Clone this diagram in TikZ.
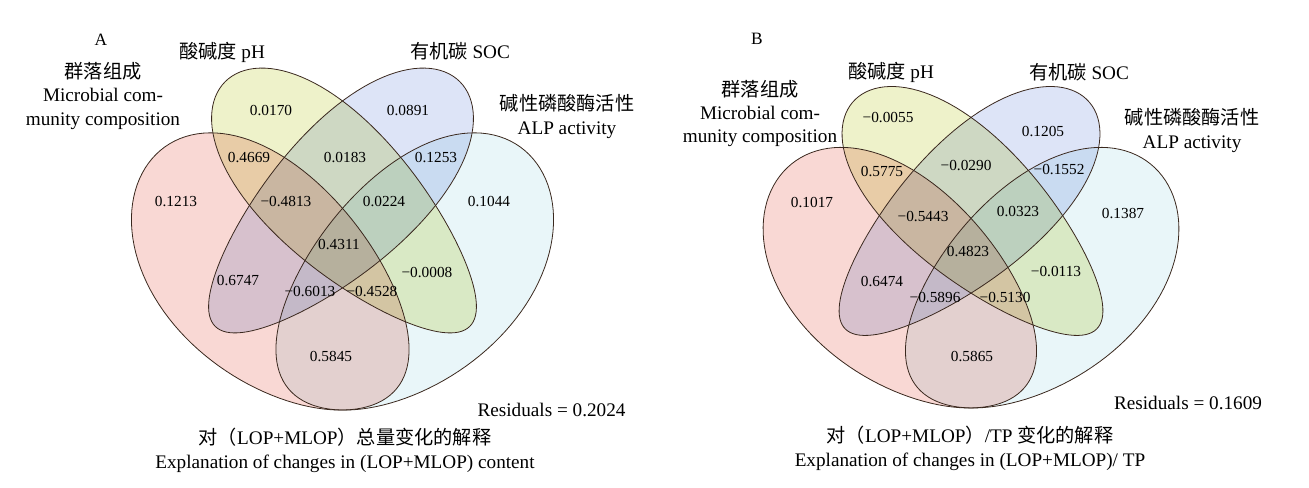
\documentclass[tikz,border=0pt]{standalone}
\usepackage{fontspec}
\setmainfont{Liberation Serif}
\newfontfamily\cjk{Noto Sans CJK SC}
\definecolor{commred}{RGB}{249,216,212}
\definecolor{phyellow}{RGB}{238,242,202}
\definecolor{socblue}{RGB}{221,228,247}
\definecolor{alpcyan}{RGB}{233,246,249}
\definecolor{vennline}{RGB}{58,40,30}
\tikzset{%
  eggfill/.style = {blend mode=multiply},%
  eggline/.style = {draw=vennline, line width=0.6pt},%
  numlbl/.style  = {font=\fontsize{11.5}{13}\selectfont, inner sep=0pt},%
  catlbl/.style  = {font=\fontsize{14.4}{17.6}\selectfont, align=center, inner sep=0pt},%
  panel/.style   = {font=\fontsize{13}{15}\selectfont, inner sep=0pt}%
}
% egg outlines, in pixel units
\newcommand{\outeregg}{plot[domain=0:360,samples=121]
  ({168*cos(\x)},{101*sin(\x)*(1-0.1*cos(\x))+7*sin(\x)*sin(\x)-1}) -- cycle}
\newcommand{\inneregg}{plot[domain=0:360,samples=121]
  ({173*cos(\x)},{71*sin(\x)*(1-0.2*cos(\x))}) -- cycle}
\newcommand{\vennshapes}{%
  \fill[commred,eggfill,shift={(-68.5,274)},rotate=-45] \outeregg;
  \fill[alpcyan,eggfill,xscale=-1,shift={(-68.5,274)},rotate=-45] \outeregg;
  \fill[phyellow,eggfill,shift={(5,204)},rotate=-45] \inneregg;
  \fill[socblue,eggfill,xscale=-1,shift={(5,204)},rotate=-45] \inneregg;
  \draw[eggline,shift={(-68.5,274)},rotate=-45] \outeregg;
  \draw[eggline,xscale=-1,shift={(-68.5,274)},rotate=-45] \outeregg;
  \draw[eggline,shift={(5,204)},rotate=-45] \inneregg;
  \draw[eggline,xscale=-1,shift={(5,204)},rotate=-45] \inneregg;
}
\begin{document}
\begin{tikzpicture}[x=0.75pt,y=-0.75pt]
	\useasboundingbox (0,0) rectangle (1309,488);
	% panel A
	\begin{scope}[shift={(342.5,0)}]
		\vennshapes
	\end{scope}
	\node[panel] (tagA) at (101,40) {A};
	\node[catlbl] (phA) at (222,52) {{\cjk 酸碱度} pH};
	\node[catlbl] (commA) at (103,96) {{\cjk 群落组成}\\Microbial com-\\munity composition};
	\node[catlbl] (socA) at (460,51) {{\cjk 有机碳} SOC};
	\node[catlbl] (alpA) at (567,116.5) {{\cjk 碱性磷酸酶活性}\\ALP activity};
	\node[numlbl] (rA) at (176,202) {0.1213};
	\node[numlbl] (yA) at (271,111) {0.0170};
	\node[numlbl] (bA) at (408,111) {0.0891};
	\node[numlbl] (cA) at (489,202) {0.1044};
	\node[numlbl] (ryA) at (249,158) {0.4669};
	\node[numlbl] (ybA) at (345,158) {0.0183};
	\node[numlbl] (bcA) at (436,158) {0.1253};
	\node[numlbl] (rybA) at (286,202) {−0.4813};
	\node[numlbl] (ybcA) at (384,202) {0.0224};
	\node[numlbl] (allA) at (339,245) {0.4311};
	\node[numlbl] (rbA) at (238,281) {0.6747};
	\node[numlbl] (rbcA) at (310,292) {−0.6013};
	\node[numlbl] (rycA) at (372,292) {−0.4528};
	\node[numlbl] (ycA) at (427,273) {−0.0008};
	\node[numlbl] (rcA) at (331,357) {0.5845};
	\node[catlbl] (resA) at (551.5,410) {Residuals = 0.2024};
	\node[catlbl] (capA) at (345,450.5) {{\cjk 对（}LOP+MLOP{\cjk ）总量变化的解释}\\Explanation of changes in (LOP+MLOP) content};
	% panel B
	\begin{scope}[shift={(971,22.5)},xscale=0.985,yscale=0.94]
		\vennshapes
	\end{scope}
	\node[panel] (tagB) at (757,39) {B};
	\node[catlbl] (phB) at (891,72) {{\cjk 酸碱度} pH};
	\node[catlbl] (commB) at (760,113.5) {{\cjk 群落组成}\\Microbial com-\\munity composition};
	\node[catlbl] (socB) at (1079,72) {{\cjk 有机碳} SOC};
	\node[catlbl] (alpB) at (1192,130.5) {{\cjk 碱性磷酸酶活性}\\ALP activity};
	\node[numlbl] (rB) at (812,203) {0.1017};
	\node[numlbl] (yB) at (888,118) {−0.0055};
	\node[numlbl] (bB) at (1043,132) {0.1205};
	\node[numlbl] (cB) at (1123,214) {0.1387};
	\node[numlbl] (ryB) at (882,172) {0.5775};
	\node[numlbl] (ybB) at (966,166) {−0.0290};
	\node[numlbl] (bcB) at (1059,170) {−0.1552};
	\node[numlbl] (rybB) at (923,217) {−0.5443};
	\node[numlbl] (ybcB) at (1018,212) {0.0323};
	\node[numlbl] (allB) at (968,252) {0.4823};
	\node[numlbl] (rbB) at (882,282) {0.6474};
	\node[numlbl] (rbcB) at (935,298) {−0.5896};
	\node[numlbl] (rycB) at (1005,298) {−0.5130};
	\node[numlbl] (ycB) at (1056,272) {−0.0113};
	\node[numlbl] (rcB) at (972,357) {0.5865};
	\node[catlbl] (resB) at (1188,403) {Residuals = 0.1609};
	\node[catlbl] (capB) at (970,448.5) {{\cjk 对（}LOP+MLOP{\cjk ）}/TP {\cjk 变化的解释}\\Explanation of changes in (LOP+MLOP)/ TP};
\end{tikzpicture}
\end{document}
